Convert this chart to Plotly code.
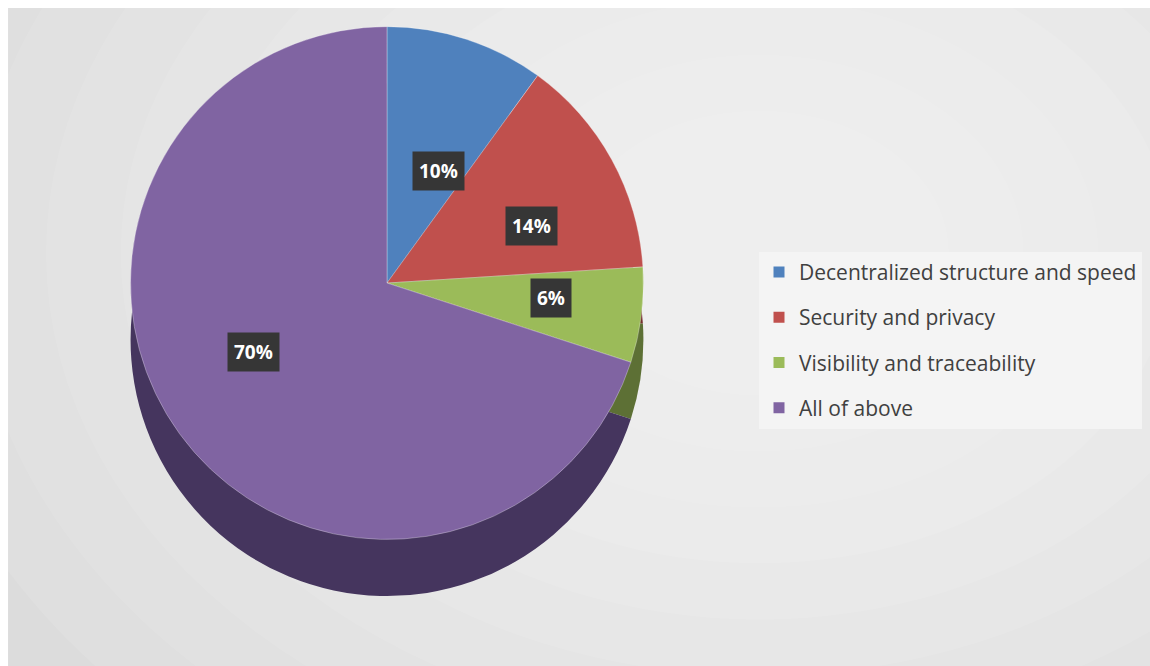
import math
import plotly.graph_objects as go

categories = ["Decentralized structure and speed", "Security and privacy",
              "Visibility and traceability", "All of above"]
values = [10, 14, 6, 70]
value_labels = ["10%", "14%", "6%", "70%"]

top_colors = ["#4F81BD", "#C0504D", "#9BBB59", "#8064A2"]
side_colors = ["#2F4D72", "#74302E", "#5D7035", "#45355E"]

W, H = 1150, 666
cx, cy = 0.3365, 0.575          # pie centre (paper)
dom_h = 0.77                    # domain height (paper)
depth = 0.085                   # 3-D depth offset (paper)

main_dom = dict(x=[cx - 0.3, cx + 0.3], y=[cy - dom_h / 2, cy + dom_h / 2])
side_dom = dict(x=[cx - 0.3, cx + 0.3], y=[cy - dom_h / 2 - depth, cy + dom_h / 2 - depth])

fig = go.Figure()
# side (depth) of the 3-D pie
fig.add_trace(go.Pie(
    labels=categories, values=values, sort=False, direction="clockwise", rotation=0,
    marker=dict(colors=side_colors, line=dict(width=0)),
    textinfo="none", showlegend=False, hoverinfo="skip", domain=side_dom,
))
# top face
fig.add_trace(go.Pie(
    labels=categories, values=values, sort=False, direction="clockwise", rotation=0,
    marker=dict(colors=top_colors, line=dict(width=0.6, color="rgba(255,255,255,0.5)")),
    textinfo="none", showlegend=False, domain=main_dom,
))

# legend entries (one group per category so the spacing can be set)
for cat, col in zip(categories, top_colors):
    fig.add_trace(go.Scatter(
        x=[None], y=[None], mode="markers", name=cat, legendgroup=cat,
        marker=dict(symbol="square", size=11, color=col), showlegend=True,
    ))

# data labels (dark boxes) placed at each slice's mid-angle
R_px = dom_h * H / 2
total = sum(values)
cum = 0
annotations = []
for v, lab in zip(values, value_labels):
    mid = (cum + v / 2) / total * 2 * math.pi
    cum += v
    annotations.append(dict(
        x=cx + 0.645 * R_px * math.sin(mid) / W,
        y=cy + 0.46 * R_px * math.cos(mid) / H,
        xref="paper", yref="paper", xanchor="center", yanchor="middle",
        text="<b>" + lab + "</b>", showarrow=False,
        font=dict(family="Open Sans", size=19, color="white"),
        bgcolor="#363636", borderpad=6,
    ))

# soft radial background
shapes = [dict(type="rect", xref="paper", yref="paper", x0=0.007, x1=1, y0=0, y1=0.988,
               fillcolor="#dcdcdc", line=dict(width=0), layer="below")]
for k in range(10):
    rx = 0.75 - k * 0.065
    ry = rx * W / H * 0.75
    shapes.append(dict(type="circle", xref="paper", yref="paper",
                       x0=0.66 - rx, x1=0.66 + rx, y0=0.62 - ry, y1=0.62 + ry,
                       fillcolor="white", opacity=0.09, line=dict(width=0), layer="below"))

fig.update_layout(
    width=W, height=H, margin=dict(l=0, r=0, t=0, b=0),
    paper_bgcolor="white", plot_bgcolor="rgba(0,0,0,0)",
    xaxis=dict(visible=False), yaxis=dict(visible=False),
    shapes=shapes,
    annotations=annotations,
    legend=dict(x=0.66, y=0.622, xanchor="left", yanchor="top",
                bgcolor="#f4f4f4", font=dict(family="Open Sans", size=21, color="#404040"),
                traceorder="grouped", tracegroupgap=15, itemwidth=30),
)

fig.write_html("out.html")
